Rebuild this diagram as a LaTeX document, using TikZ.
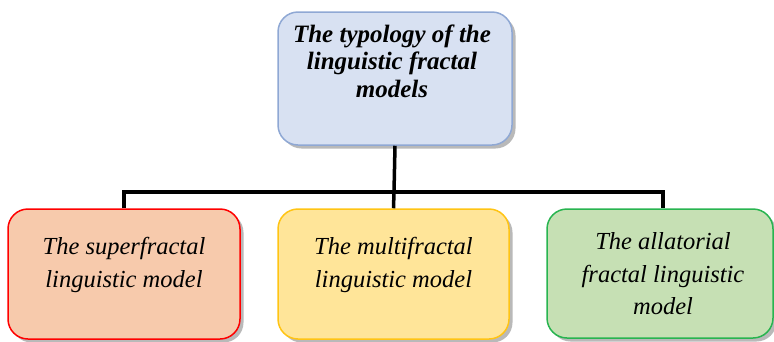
\documentclass[tikz,border=0pt]{standalone}
\usepackage{fontspec}
\setmainfont{Liberation Serif}
\usetikzlibrary{shadows}

\definecolor{topfill}{RGB}{216,225,242}
\definecolor{topline}{RGB}{143,168,212}
\definecolor{redfill}{RGB}{247,202,172}
\definecolor{yelfill}{RGB}{255,229,153}
\definecolor{yelline}{RGB}{255,196,20}
\definecolor{grnfill}{RGB}{198,224,180}
\definecolor{grnline}{RGB}{40,180,80}

\tikzset{
  box/.style={rectangle, rounded corners=20pt, line width=1.5pt,
    drop shadow={shadow xshift=3.5pt, shadow yshift=-3.5pt, fill=black!55}},
  boxtext/.style={align=center, font=\fontsize{24.5}{32.5}\selectfont\itshape},
  toptext/.style={align=center, font=\fontsize{25}{27.5}\selectfont\bfseries\itshape},
  link/.style={line width=3.5pt}
}

\begin{document}
\begin{tikzpicture}[x=1pt,y=-1pt]
\useasboundingbox (0,0) rectangle (774,341);

%top box
\node[box, draw=topline, fill=topfill, minimum width=234pt, minimum height=133pt] (typo) at (395,78.5) {};
\node[toptext] (typotxt) at (392,61) {The typology of the\\linguistic fractal\\models};

%bottom boxes
\node[box, draw=red, fill=redfill, minimum width=232pt, minimum height=130pt] (superf) at (124,274) {};
\node[box, draw=yelline, fill=yelfill, minimum width=231pt, minimum height=130pt] (multif) at (393.5,274) {};
\node[box, draw=grnline, fill=grnfill, minimum width=226pt, minimum height=129pt] (allat) at (660,273.5) {};

\node[boxtext] (superftxt) at (124,265) {The superfractal\\linguistic model};
\node[boxtext] (multiftxt) at (393.5,265) {The multifractal\\linguistic model};
\node[boxtext] (allattxt) at (663,274) {The allatorial\\fractal linguistic\\model};

%connectors
\coordinate (bus) at (394,192);
\draw[link] (typo.south) -- (bus);
\draw[link] (superf.north) |- (bus) -| ([xshift=3pt]allat.north);
\draw[link] (bus) -- (multif.north);

\end{tikzpicture}
\end{document}
